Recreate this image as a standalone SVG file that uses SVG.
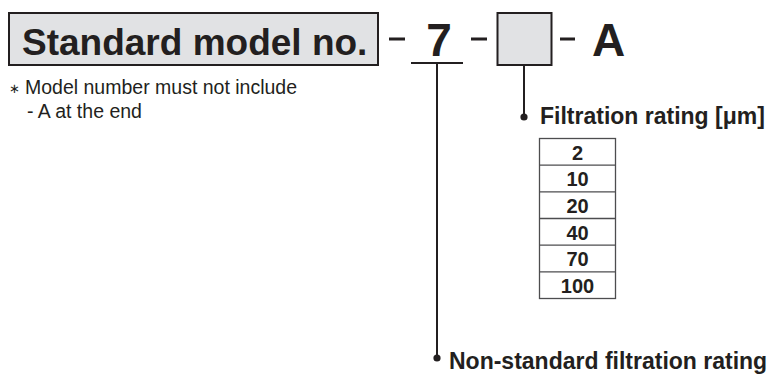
<svg xmlns="http://www.w3.org/2000/svg" width="771" height="374" viewBox="0 0 771 374">
<style>
.b{font-family:"Liberation Sans",Arial,sans-serif;font-weight:bold;fill:#231f20}
.r{font-family:"Liberation Sans",Arial,sans-serif;fill:#231f20}
.box{fill:#e1e2e4;stroke:#231f20;stroke-width:2}
.ln{stroke:#231f20;stroke-width:2;fill:none}
.tb{fill:#fff;stroke:#4d4d4f;stroke-width:1.3}
.dash{fill:#231f20}
</style>
<rect width="771" height="374" fill="#fff"/>
<g id="standard">
<rect class="box" x="9" y="13" width="369" height="52"/>
<text class="b" x="22" y="55" font-size="37">Standard model no.</text>
</g>
<g id="dashes">
<rect class="dash" x="389" y="37.5" width="16" height="3"/>
<rect class="dash" x="471" y="37.5" width="16" height="3"/>
<rect class="dash" x="560" y="37.5" width="15" height="3"/>
</g>
<g id="seven">
<text class="b" x="439" y="56" font-size="46" text-anchor="middle">7</text>
</g>
<g id="option-box">
<rect class="box" x="497.5" y="13" width="54" height="52"/>
</g>
<g id="suffix-a">
<text class="b" x="608.5" y="56" font-size="46" text-anchor="middle">A</text>
</g>
<g id="note">
<text class="r" x="9" y="93" font-size="13">∗</text>
<text class="r" x="25" y="94" font-size="19.5">Model number must not include</text>
<text class="r" x="27" y="118" font-size="19.5">- A at the end</text>
</g>
<g id="connectors">
<line class="ln" x1="411" y1="63" x2="463" y2="63"/>
<line class="ln" x1="437" y1="63" x2="437" y2="358"/>
<circle cx="437" cy="358" r="3.6" fill="#231f20"/>
<line class="ln" x1="524" y1="65" x2="524" y2="117"/>
<circle cx="524" cy="117" r="3.6" fill="#231f20"/>
</g>
<g id="filtration">
<text class="b" x="540" y="124" font-size="23">Filtration rating [μm]</text>
</g>
<g id="table">
<rect class="tb" x="539.5" y="138.5" width="76" height="160"/>
<line class="tb" x1="539.5" y1="165.2" x2="615.5" y2="165.2"/>
<line class="tb" x1="539.5" y1="191.8" x2="615.5" y2="191.8"/>
<line class="tb" x1="539.5" y1="218.5" x2="615.5" y2="218.5"/>
<line class="tb" x1="539.5" y1="245.2" x2="615.5" y2="245.2"/>
<line class="tb" x1="539.5" y1="271.8" x2="615.5" y2="271.8"/>
<g class="b" font-size="20" text-anchor="middle">
<text x="577.5" y="159.5">2</text>
<text x="577.5" y="186.2">10</text>
<text x="577.5" y="212.8">20</text>
<text x="577.5" y="239.5">40</text>
<text x="577.5" y="266.2">70</text>
<text x="577.5" y="292.8">100</text>
</g>
</g>
<g id="nonstandard">
<text class="b" x="449" y="369" font-size="23">Non-standard filtration rating</text>
</g>
</svg>
